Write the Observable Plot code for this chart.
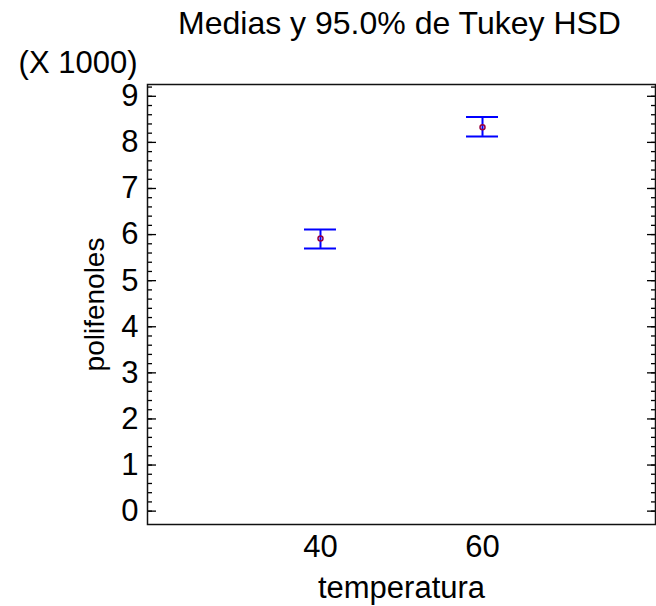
<!DOCTYPE html>
<html>
<head>
<meta charset="utf-8">
<script src="https://cdn.jsdelivr.net/npm/d3@7"></script>
<script src="https://cdn.jsdelivr.net/npm/@observablehq/plot@0.6"></script>
<style>
  body { margin: 0; background: #fff; }
  svg { font-family: "Liberation Sans", Arial, sans-serif; }
</style>
</head>
<body>
<div id="chart"></div>
<script>
// Data (polifenoles, units)
const temperatura = ["40", "60"];
const medias = [5915, 8330];
const limiteInferior = [5700, 8130];
const limiteSuperior = [6110, 8550];
const majorTicks = [0, 1000, 2000, 3000, 4000, 5000, 6000, 7000, 8000, 9000];
const minorTicks = d3.range(0, 9201, 200);

const data = temperatura.map((t, i) => ({
  t, m: medias[i], lo: limiteInferior[i], hi: limiteSuperior[i]
}));

const font = 31;
const blank = () => "";

const plot = Plot.plot({
  width: 656,
  height: 606,
  marginTop: 84,
  marginLeft: 147,
  marginRight: 1,
  marginBottom: 82,
  style: { fontFamily: "Liberation Sans, Arial, sans-serif", background: "#fff" },
  x: { type: "band", domain: temperatura, paddingInner: 0.8025, paddingOuter: 0.969, round: false },
  y: { domain: [-290, 9256] },
  marks: [
    // y tick labels
    Plot.axisY({ ticks: majorTicks, tickSize: 0, tickPadding: 9, tickFormat: d => d / 1000, fontSize: font, label: null }),
    // inward major / minor ticks, left and right
    Plot.axisY({ anchor: "left", ticks: majorTicks, tickSize: 9, dx: 9, tickFormat: blank, label: null, strokeWidth: 1.3 }),
    Plot.axisY({ anchor: "left", ticks: minorTicks, tickSize: 5, dx: 5, tickFormat: blank, label: null, strokeWidth: 1.3 }),
    Plot.axisY({ anchor: "right", ticks: majorTicks, tickSize: 9, dx: -9, tickFormat: blank, label: null, strokeWidth: 1.3 }),
    Plot.axisY({ anchor: "right", ticks: minorTicks, tickSize: 5, dx: -5, tickFormat: blank, label: null, strokeWidth: 1.3 }),
    // x tick labels
    Plot.axisX({ tickSize: 0, tickPadding: 10, fontSize: font, label: null }),
    Plot.frame({ stroke: "#111", strokeWidth: 1.5 }),
    // error bars
    Plot.ruleX(data, { x: "t", y1: "lo", y2: "hi", stroke: "#0000ff", strokeWidth: 2 }),
    Plot.tickY(data, { x: "t", y: "lo", stroke: "#0000ff", strokeWidth: 2 }),
    Plot.tickY(data, { x: "t", y: "hi", stroke: "#0000ff", strokeWidth: 2 }),
    Plot.dot(data, { x: "t", y: "m", r: 2.5, stroke: "#990040", strokeWidth: 1.5, fill: "none" }),
    // texts
    Plot.text(["Medias y 95.0% de Tukey HSD"], { frameAnchor: "top", dx: -2, dy: -61, lineAnchor: "middle", fontSize: 32, fill: "#000" }),
    Plot.text(["(X 1000)"], { frameAnchor: "top-left", textAnchor: "end", dx: -10, dy: -21, lineAnchor: "middle", fontSize: font, fill: "#000" }),
    Plot.text(["polifenoles"], { frameAnchor: "left", textAnchor: "middle", rotate: -90, dx: -52, lineAnchor: "middle", fontSize: 28, fill: "#000" }),
    Plot.text(["temperatura"], { frameAnchor: "bottom", dy: 64, lineAnchor: "middle", fontSize: font, fill: "#000" })
  ]
});
document.getElementById("chart").appendChild(plot);
</script>
</body>
</html>
